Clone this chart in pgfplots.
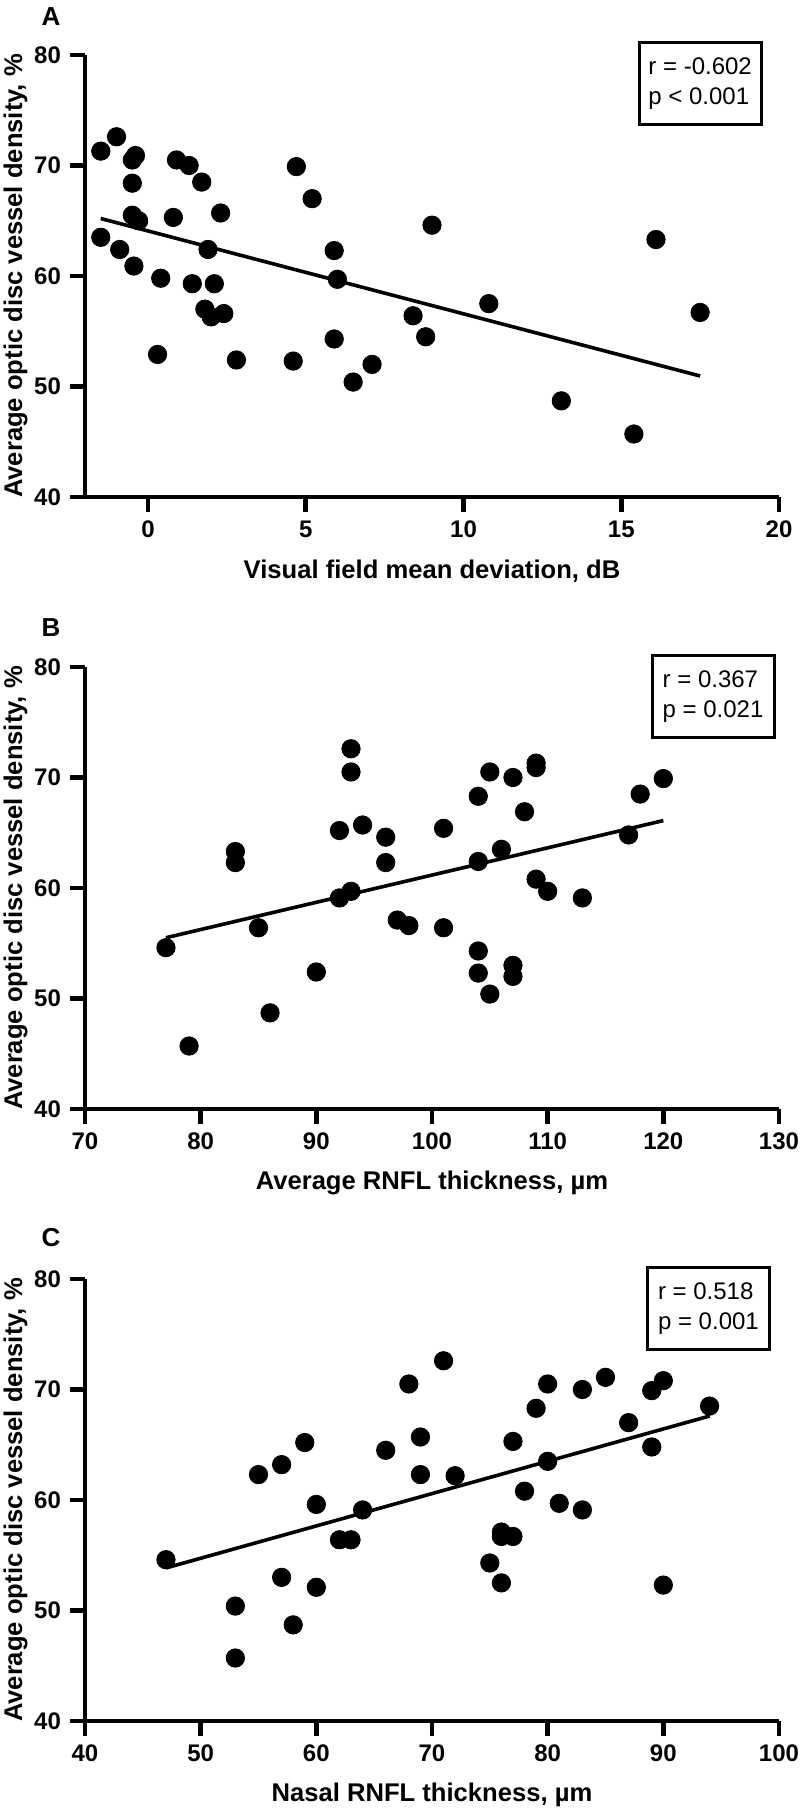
\documentclass[border=0pt]{standalone}
\usepackage{pgfplots}
\pgfplotsset{compat=1.18}
\usepackage{fontspec}
\setmainfont{Liberation Sans}
\pgfplotsset{
  every axis/.append style={line width=2.4pt},
  every tick/.append style={line width=2.4pt, black},
  major tick length=7.5pt,
  tick align=outside,
}
\begin{document}
\begin{tikzpicture}
\useasboundingbox (0pt,0pt) rectangle (400pt,906pt);
\tikzset{statbox/.style={draw, line width=1.5pt, align=left, inner sep=3pt, minimum width=61pt, minimum height=41pt, font=\fontsize{12}{15}\selectfont}}
\pgfplotsset{
  panel/.style={
    scale only axis, width=347pt, height=221pt,
    anchor=south west,
    axis x line*=bottom, axis y line*=left,
    axis line style={line width=2.4pt, black},
    tick style={line width=2.4pt, black},
    major tick length=7.5pt,
    tick align=outside,
    ymin=40, ymax=80, ytick={40,50,60,70,80},
    tick label style={font=\bfseries\fontsize{12}{14}\selectfont},
    label style={font=\bfseries\fontsize{12.8}{15}\selectfont},
    ylabel={Average optic disc vessel density, \%},
    ylabel style={at={(axis description cs:-0.1,0.5)}, anchor=center},
    xlabel style={at={(axis description cs:0.5,0)}, anchor=center, yshift=-37pt},
    clip=false,
    /pgf/number format/assume math mode=true,
  },
  dots/.style={only marks, mark=*, mark size=4.6pt, mark options={fill=black, draw=black, line width=0.4pt}},
  fit/.style={no marks, line width=1.8pt, black},
}

% Panel A
\begin{axis}[panel, at={(42.5pt,657.5pt)}, xmin=-2, xmax=20, xtick={0,5,10,15,20},
  xlabel={Visual field mean deviation, dB}, tick align=outside, major tick length=7.5pt]
\addplot[dots] coordinates {
(-1.5,71.3) (-1.0,72.6) (-0.5,70.5) (-0.4,70.9) (-0.5,68.4) (-0.5,65.5) (-0.3,65.0)
(-1.5,63.5) (-0.9,62.4) (-0.45,60.9) (0.4,59.8) (0.8,65.3) (0.9,70.5) (1.3,70.0)
(1.7,68.5) (2.3,65.7) (1.9,62.4) (1.4,59.3) (2.1,59.3) (4.7,69.9) (5.2,67.0)
(9.0,64.6) (5.9,62.3) (6.0,59.7) (16.1,63.3) (10.8,57.5) (1.8,57.0) (2.0,56.3)
(2.4,56.6) (0.3,52.9) (2.8,52.4) (4.6,52.3) (5.9,54.3) (6.5,50.4) (7.1,52.0)
(8.4,56.4) (8.8,54.5) (13.1,48.7) (15.4,45.7) (17.5,56.7)
};
\addplot[fit] coordinates {(-1.5,65.2) (17.5,50.95)};
\node[statbox] at (axis cs:17.5,77.4) {r = -0.602\\p < 0.001};
\end{axis}

% Panel B
\begin{axis}[panel, at={(42.5pt,351.5pt)}, xmin=70, xmax=130, xtick={70,80,90,100,110,120,130},
  xlabel={Average RNFL thickness, µm}, tick align=outside, major tick length=7.5pt]
\addplot[dots] coordinates {
(93,72.6) (93,70.5) (83,63.3) (83,62.3) (92,65.2) (94,65.7) (96,64.6) (96,62.3)
(101,65.4) (104,68.3) (105,70.5) (107,70.0) (109,71.3) (109,70.9) (108,66.9)
(106,63.5) (104,62.4) (117,64.8) (118,68.5) (120,69.9) (109,60.8) (110,59.7)
(113,59.1) (92,59.1) (93,59.7) (77,54.6) (85,56.4) (97,57.1) (98,56.6) (101,56.4)
(90,52.4) (86,48.7) (79,45.7) (104,54.3) (104,52.3) (107,53.0) (107,52.0) (105,50.4)
};
\addplot[fit] coordinates {(77,55.5) (120,66.1)};
\node[statbox] at (axis cs:124.3,77.3) {r = 0.367\\p = 0.021};
\end{axis}

% Panel C
\begin{axis}[panel, at={(42.5pt,45.5pt)}, xmin=40, xmax=100, xtick={40,50,60,70,80,90,100},
  xlabel={Nasal RNFL thickness, µm}, tick align=outside, major tick length=7.5pt]
\addplot[dots] coordinates {
(71,72.6) (68,70.5) (80,70.5) (83,70.0) (85,71.1) (89,69.9) (90,70.8) (79,68.3)
(94,68.5) (87,67.0) (89,64.8) (77,65.3) (80,63.5) (69,65.7) (66,64.5) (69,62.3)
(72,62.2) (59,65.2) (57,63.2) (55,62.3) (78,60.8) (81,59.7) (60,59.6) (64,59.1)
(83,59.1) (47,54.6) (62,56.4) (63,56.4) (76,57.1) (76,56.7) (77,56.7) (75,54.3)
(76,52.5) (90,52.3) (57,53.0) (60,52.1) (53,50.4) (58,48.7) (53,45.7)
};
\addplot[fit] coordinates {(47,53.85) (94,67.6)};
\node[statbox] at (axis cs:93.9,77.3) {r = 0.518\\p = 0.001};
\end{axis}

\node[font=\bfseries\fontsize{13}{15}\selectfont] at (25.5pt,897.5pt) {A};
\node[font=\bfseries\fontsize{13}{15}\selectfont] at (25.5pt,592pt) {B};
\node[font=\bfseries\fontsize{13}{15}\selectfont] at (25.5pt,287pt) {C};
\end{tikzpicture}
\end{document}
